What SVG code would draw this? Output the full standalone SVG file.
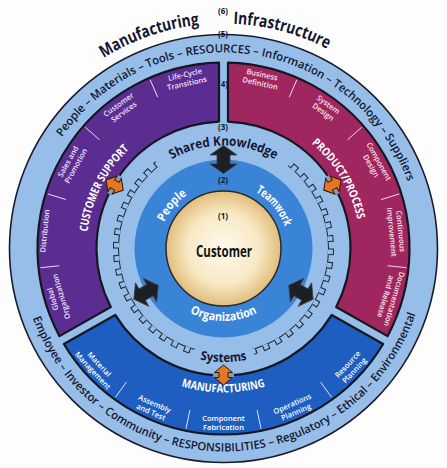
<svg xmlns="http://www.w3.org/2000/svg" xmlns:xlink="http://www.w3.org/1999/xlink" width="447" height="468" viewBox="0 0 447 468">
<style>
  text { font-family: "Open Sans", "Noto Sans", "DejaVu Sans", sans-serif; }
  .num { font-size: 8px; font-weight: 700; fill: #14162e; text-anchor: middle; }
  .band { font-size: 11.5px; font-weight: 600; fill: #14162e; }
  .big { font-size: 17px; font-weight: 700; fill: #14162e; }
  .main { font-size: 11.5px; font-weight: 700; fill: #ffffff; }
  .ring { font-size: 12px; font-weight: 700; fill: #ffffff; }
  .dark { font-size: 13px; font-weight: 700; fill: #14162e; }
  .sub { font-size: 7.5px; font-weight: 600; text-anchor: middle; }
  .subp { fill: #ece4ff; }
  .subm { fill: #ffe4ee; }
  .subb { fill: #ffffff; }
  .sector { stroke: #15161f; stroke-width: 2.2; stroke-linejoin: round; }
  .div { stroke: #e8dcf2; stroke-width: 1; }
  .barrow { fill: #1e1f22; stroke: #3a3d44; stroke-width: 0.8; }
  .oarrow { fill: #e8761f; stroke: #2a1a10; stroke-width: 1; }
</style>
<defs>
  <radialGradient id="custGrad" cx="50%" cy="50%" r="50%">
    <stop offset="0%" stop-color="#fefaee"/>
    <stop offset="62%" stop-color="#f8e9c4"/>
    <stop offset="100%" stop-color="#e2bd7c"/>
  </radialGradient>
  <polygon id="barrowShape" class="barrow" points="0,-14 13.5,-4.5 6.5,-4.5 6.5,4.5 13.5,4.5 0,14 -13.5,4.5 -6.5,4.5 -6.5,-4.5 -13.5,-4.5"/>
  <g id="oarrowShape">
    <rect x="-10.5" y="-2.2" width="21" height="4.4" fill="#8d99a6"/>
    <polygon class="oarrow" points="0,-10 9,-2.5 4.5,-2.5 4.5,2.5 9,2.5 0,10 -9,2.5 -4.5,2.5 -4.5,-2.5 -9,-2.5"/>
  </g>
  <path id="pManu" d="M103.6,58.11 A225,225 0 0 1 199.98,24.73"/>
  <path id="pInfra" d="M233.31,23.71 A225,225 0 0 1 328.44,49.47"/>
  <path id="pBandTop" d="M62.13,137.2 A196,196 0 0 1 408.26,183.07"/>
  <path id="pBandBot" d="M32.74,317.93 A203,203 0 0 0 416.57,311.23"/>
  <path id="pCS" d="M87.52,231.8 A137,137 0 0 1 130.07,148.31"/>
  <path id="pPP" d="M311.56,143.55 A137,137 0 0 1 357.51,220.02"/>
  <path id="pMF" d="M181.4,386.21 A144,144 0 0 0 265.6,386.21"/>
  <path id="pSK" d="M170.45,160.21 A103,103 0 0 1 276.55,160.21"/>
  <path id="pSys" d="M166.75,346.79 A113.5,113.5 0 0 0 280.25,346.79"/>
  <path id="pPeople" d="M159.49,237.21 A65,65 0 0 1 201.27,187.42"/>
  <path id="pTeam" d="M234.79,184.49 A65,65 0 0 1 288.5,248.5"/>
  <path id="pOrg" d="M155.37,273.3 A72.5,72.5 0 0 0 291.63,273.3"/>
</defs>
<rect width="447" height="468" fill="#fdfdfd"/>

<g id="outer-ring">
  <circle cx="223.5" cy="248.5" r="214" fill="#96bee9" stroke="#1a1c2a" stroke-width="1.6"/>
</g>

<g id="sector-customer-support">
  <path class="sector" fill="#5b2d90" d="M219,62.55 A186,186 0 0 0 59.45,336.16 L110.82,307.08 A127,127 0 0 1 219,121.58 Z"/>
  <line class="div" x1="157.71" y1="97.19" x2="150.13" y2="79.76"/>
  <line class="div" x1="99.45" y1="139.71" x2="85.16" y2="127.18"/>
  <line class="div" x1="65.92" y1="199.57" x2="47.78" y2="193.94"/>
  <line class="div" x1="59.4" y1="265.75" x2="40.51" y2="267.73"/>
</g>
<g id="sector-product-process">
  <path class="sector" fill="#a0265f" d="M228,62.55 A186,186 0 0 1 387.55,336.16 L336.18,307.08 A127,127 0 0 0 228,121.58 Z"/>
  <line class="div" x1="289.29" y1="97.19" x2="296.87" y2="79.76"/>
  <line class="div" x1="347.55" y1="139.71" x2="361.84" y2="127.18"/>
  <line class="div" x1="381.08" y1="199.57" x2="399.22" y2="193.94"/>
  <line class="div" x1="387.6" y1="265.75" x2="406.49" y2="267.73"/>
</g>
<g id="sector-manufacturing">
  <path class="sector" fill="#1e5ec0" d="M63.87,343.98 A186,186 0 0 0 383.13,343.98 L331.75,314.92 A127,127 0 0 1 115.25,314.92 Z"/>
  <line class="div" x1="126.51" y1="381.99" x2="115.35" y2="397.36"/>
  <line class="div" x1="189.9" y1="410.04" x2="186.03" y2="428.65"/>
  <line class="div" x1="257.1" y1="410.04" x2="260.97" y2="428.65"/>
  <line class="div" x1="320.49" y1="381.99" x2="331.65" y2="397.36"/>
</g>

<g id="gear">
  <circle cx="223.5" cy="248.5" r="105.5" fill="#1d2430"/>
  <circle cx="223.5" cy="248.5" r="108" fill="none" stroke="#1d2430" stroke-width="5" pathLength="360" stroke-dasharray="3.6 3.6"/>
  <circle cx="223.5" cy="248.5" r="104.5" fill="#96bee9"/>
  <circle cx="223.5" cy="248.5" r="107" fill="none" stroke="#96bee9" stroke-width="5" pathLength="360" stroke-dasharray="2.5 4.7" stroke-dashoffset="-0.55"/>
  <path d="M157.01,163.39 A108,108 0 0 1 289.99,163.39" fill="none" stroke="#96bee9" stroke-width="11"/>
  <path d="M193.73,352.32 A108,108 0 0 0 253.27,352.32" fill="none" stroke="#96bee9" stroke-width="11"/>
</g>

<g id="core">
  <circle id="teamwork-ring" cx="223.5" cy="248.5" r="89" fill="#3a84d8"/>
  <circle id="customer" cx="223.5" cy="248.5" r="57.5" fill="url(#custGrad)" stroke="#2a2a2a" stroke-width="1.5"/>
</g>

<g id="connectors">
  <use xlink:href="#barrowShape" transform="translate(223.5,159.5)"/>
  <use xlink:href="#barrowShape" transform="translate(146.04,292.33) rotate(-119.5)"/>
  <use xlink:href="#barrowShape" transform="translate(300.96,292.33) rotate(119.5)"/>
  <use xlink:href="#oarrowShape" transform="translate(114.65,185.01) rotate(-59.75)"/>
  <use xlink:href="#oarrowShape" transform="translate(332.35,185.01) rotate(59.75)"/>
  <use xlink:href="#oarrowShape" transform="translate(223.5,375)"/>
</g>

<g id="labels-outer">
  <text class="big"><textPath xlink:href="#pManu" textLength="102" lengthAdjust="spacingAndGlyphs">Manufacturing</textPath></text>
  <text class="big"><textPath xlink:href="#pInfra" textLength="98" lengthAdjust="spacingAndGlyphs">Infrastructure</textPath></text>
  <text class="band"><textPath xlink:href="#pBandTop" textLength="429" lengthAdjust="spacingAndGlyphs">People – Materials – Tools – RESOURCES – Information – Technology – Suppliers</textPath></text>
  <text class="band"><textPath xlink:href="#pBandBot" textLength="500" lengthAdjust="spacingAndGlyphs">Employee – Investor – Community – RESPONSIBILITIES – Regulatory – Ethical – Environmental</textPath></text>
  <text class="num" x="223" y="14">(6)</text>
  <text class="num" x="223" y="37">(5)</text>
  <text class="num" x="223" y="87">(4)</text>
  <text class="num" x="223" y="130">(3)</text>
  <text class="num" x="223" y="183">(2)</text>
  <text class="num" x="223" y="219">(1)</text>
</g>

<g id="labels-sectors">
  <text class="main"><textPath xlink:href="#pCS" textLength="94" lengthAdjust="spacingAndGlyphs">CUSTOMER SUPPORT</textPath></text>
  <text class="main"><textPath xlink:href="#pPP" textLength="90" lengthAdjust="spacingAndGlyphs">PRODUCT/PROCESS</textPath></text>
  <text class="main"><textPath xlink:href="#pMF" textLength="85" lengthAdjust="spacingAndGlyphs">MANUFACTURING</textPath></text>

  <text class="sub subp" transform="translate(185.84,78.62) rotate(-12.5)"><tspan x="0" y="-1.5">Life-Cycle</tspan><tspan x="0" y="7.5">Transitions</tspan></text>
  <text class="sub subp" transform="translate(120.98,107.91) rotate(-36.1)"><tspan x="0" y="-1.5">Customer</tspan><tspan x="0" y="7.5">Services</tspan></text>
  <text class="sub subp" transform="translate(71.68,163.48) rotate(-60.75)"><tspan x="0" y="-1.5">Sales and</tspan><tspan x="0" y="7.5">Promotion</tspan></text>
  <text class="sub subp" transform="translate(44.36,230.94) rotate(-84.4)"><tspan x="0" y="3">Distribution</tspan></text>
  <text class="sub subp" transform="translate(56.67,297.92) rotate(-106.5)"><tspan x="0" y="-1.5">Global</tspan><tspan x="0" y="7.5">Organization</tspan></text>

  <text class="sub subm" transform="translate(261.16,78.62) rotate(12.5)"><tspan x="0" y="-1.5">Business</tspan><tspan x="0" y="7.5">Definition</tspan></text>
  <text class="sub subm" transform="translate(326.02,107.91) rotate(36.1)"><tspan x="0" y="-1.5">System</tspan><tspan x="0" y="7.5">Design</tspan></text>
  <text class="sub subm" transform="translate(375.32,163.48) rotate(60.75)"><tspan x="0" y="-1.5">Component</tspan><tspan x="0" y="7.5">Design</tspan></text>
  <text class="sub subm" transform="translate(396.67,231.52) rotate(84.4)"><tspan x="0" y="-1.5">Continuous</tspan><tspan x="0" y="7.5">Improvement</tspan></text>
  <text class="sub subm" transform="translate(390.33,297.92) rotate(106.5)"><tspan x="0" y="-1.5">Documentation</tspan><tspan x="0" y="7.5">and Release</tspan></text>

  <text class="sub subb" transform="translate(96.25,367.17) rotate(47)"><tspan x="0" y="-1.5">Material</tspan><tspan x="0" y="7.5">Management</tspan></text>
  <text class="sub subb" transform="translate(153.01,407.58) rotate(23.9)"><tspan x="0" y="-1.5">Assembly</tspan><tspan x="0" y="7.5">and Test</tspan></text>
  <text class="sub subb" transform="translate(223.5,422.5)"><tspan x="0" y="-1.5">Component</tspan><tspan x="0" y="7.5">Fabrication</tspan></text>
  <text class="sub subb" transform="translate(293.99,407.58) rotate(-23.9)"><tspan x="0" y="-1.5">Operations</tspan><tspan x="0" y="7.5">Planning</tspan></text>
  <text class="sub subb" transform="translate(350.75,367.17) rotate(-47)"><tspan x="0" y="-1.5">Resource</tspan><tspan x="0" y="7.5">Planning</tspan></text>
</g>

<g id="labels-core">
  <text class="dark" text-anchor="middle"><textPath xlink:href="#pSK" startOffset="50%" textLength="108" lengthAdjust="spacingAndGlyphs">Shared Knowledge</textPath></text>
  <text class="dark" text-anchor="middle" style="font-size:12.5px"><textPath xlink:href="#pSys" startOffset="50%" textLength="47" lengthAdjust="spacingAndGlyphs">Systems</textPath></text>
  <text class="ring" text-anchor="middle"><textPath xlink:href="#pPeople" startOffset="50%" textLength="36" lengthAdjust="spacingAndGlyphs">People</textPath></text>
  <text class="ring" text-anchor="middle"><textPath xlink:href="#pTeam" startOffset="50%" textLength="46" lengthAdjust="spacingAndGlyphs">Teamwork</textPath></text>
  <text class="ring" text-anchor="middle"><textPath xlink:href="#pOrg" startOffset="50%" textLength="70" lengthAdjust="spacingAndGlyphs">Organization</textPath></text>
  <text x="224" y="257" text-anchor="middle" textLength="56" lengthAdjust="spacingAndGlyphs" style="font-size:16.5px;font-weight:700;fill:#111">Customer</text>
</g>
</svg>
